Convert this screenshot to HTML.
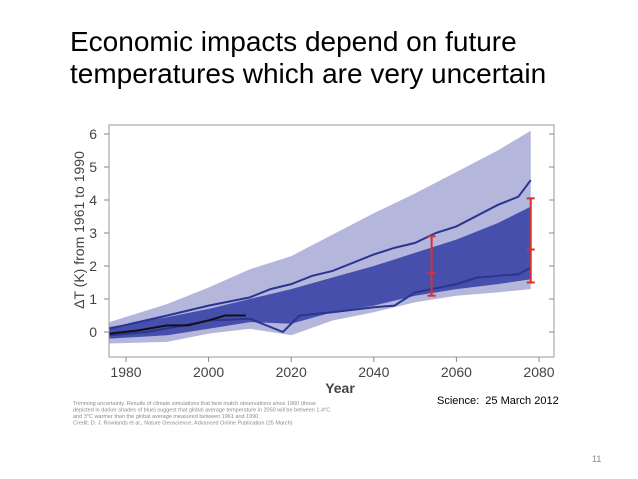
<!DOCTYPE html>
<html><head><meta charset="utf-8"><style>
body{margin:0;background:#fff;}
#wrap{position:relative;width:638px;height:479px;overflow:hidden;font-family:"Liberation Sans",sans-serif;}
.t{position:absolute;left:70px;font-size:28px;color:#000;white-space:nowrap;line-height:32px;}
</style></head><body>
<div id="wrap">
<div class="t" style="top:26px">Economic impacts depend on future</div>
<div class="t" style="top:58px">temperatures which are very uncertain</div>
<svg id="chart" width="638" height="479" style="position:absolute;left:0;top:0"></svg>
<div style="position:absolute;left:437px;top:395px;font-size:11px">Science:&nbsp; 25 March 2012</div>
<div style="position:absolute;left:592px;top:454px;font-size:9px;color:#888">11</div>
</div>
<script>
const xTicks=[1980,2000,2020,2040,2060,2080];
const yTicks=[0,1,2,3,4,5,6];
const envYears=[1976,1990,2000,2010,2020,2030,2040,2050,2060,2070,2078];
const lightUpper=[0.3,0.85,1.35,1.9,2.3,2.95,3.6,4.2,4.85,5.5,6.1];
const lightLower=[-0.35,-0.3,-0.05,0.1,-0.1,0.35,0.6,0.9,1.1,1.2,1.3];
const darkUpper=[0.15,0.45,0.7,1.0,1.3,1.65,2.0,2.4,2.8,3.3,3.8];
const darkLower=[-0.2,-0.1,0.1,0.3,0.25,0.6,0.8,1.1,1.3,1.45,1.6];
const upYears=[1976,1990,2000,2010,2015,2020,2025,2030,2040,2045,2050,2055,2060,2070,2075,2078];
const upVals=[0.1,0.5,0.8,1.05,1.3,1.45,1.7,1.85,2.35,2.55,2.7,3.0,3.2,3.85,4.1,4.6];
const loYears=[1976,1985,1994,2000,2010,2018,2022,2030,2040,2045,2050,2060,2065,2070,2075,2078];
const loVals=[-0.1,0.0,0.2,0.35,0.4,0.0,0.5,0.6,0.75,0.8,1.2,1.45,1.65,1.7,1.75,1.95];
const obsYears=[1976,1983,1990,1995,2000,2004,2009];
const obsVals=[-0.05,0.05,0.2,0.2,0.35,0.5,0.5];
const errYears=[2054,2078];
const errTop=[2.9,4.05];
const errMid=[1.8,2.5];
const errBot=[1.1,1.5];
const X=y=>126+(y-1980)*4.13;
const Y=v=>332-v*33;
const svg=document.getElementById('chart');
const NS='http://www.w3.org/2000/svg';
function mk(tag,attrs,name){const e=document.createElementNS(NS,tag);for(const k in attrs)e.setAttribute(k,attrs[k]);


svg.appendChild(e);return e;}
mk('rect',{x:109,y:125,width:445,height:232,fill:'none',stroke:'#999','stroke-width':1},'plot-frame');
yTicks.forEach(v=>{mk('line',{x1:109,x2:104,y1:Y(v),y2:Y(v),stroke:'#888'},'y-tick');
mk('line',{x1:554,x2:549,y1:Y(v),y2:Y(v),stroke:'#888'},'y-tick-right');
const t=mk('text',{x:97,y:Y(v)+5,'font-size':14,fill:'#444','text-anchor':'end'},'y-tick-label');t.textContent=v;});
xTicks.forEach(v=>{mk('line',{x1:X(v),x2:X(v),y1:357,y2:362,stroke:'#888'},'x-tick');
const t=mk('text',{x:X(v),y:377,'font-size':14,fill:'#444','text-anchor':'middle'},'x-tick-label');t.textContent=v;});
const xt=mk('text',{x:340,y:393,'font-size':14,'font-weight':'bold',fill:'#444','text-anchor':'middle'},'x-axis-title');xt.textContent='Year';
const yt=mk('text',{x:0,y:0,'font-size':14,fill:'#444','text-anchor':'middle',transform:'translate(84,230) rotate(-90)'},'y-axis-title');yt.textContent='ΔT (K) from 1961 to 1990';
function band(ys,up,lo,fill,name){let d='M'+ys.map((y,i)=>X(y)+','+Y(up[i])).join('L');
for(let i=ys.length-1;i>=0;i--)d+='L'+X(ys[i])+','+Y(lo[i]);mk('path',{d:d+'Z',fill:fill},name);}
band(envYears,lightUpper,lightLower,'#b4b6dc','light-ensemble-band');
band(envYears,darkUpper,darkLower,'#4650ac','dark-ensemble-band');
function line(ys,vs,col,w,name){mk('path',{d:'M'+ys.map((y,i)=>X(y)+','+Y(vs[i])).join('L'),fill:'none',stroke:col,'stroke-width':w},name);}
line(upYears,upVals,'#2a3590',2,'upper-bound-line');
line(loYears,loVals,'#2a3590',2,'lower-bound-line');
line(obsYears,obsVals,'#111',2,'observed-line');
errYears.forEach((y,i)=>{const x=X(y);
mk('line',{x1:x,x2:x,y1:Y(errTop[i]),y2:Y(errBot[i]),stroke:'#d83030','stroke-width':2},'error-bar');
[errTop[i],errBot[i],errMid[i]].forEach(v=>mk('line',{x1:x-4,x2:x+4,y1:Y(v),y2:Y(v),stroke:'#d83030','stroke-width':2},'error-cap'));});
const cap=['Trimming uncertainty. Results of climate simulations that best match observations since 1960 (those','depicted in darker shades of blue) suggest that global average temperature in 2050 will be between 1.4°C','and 3°C warmer than the global average measured between 1961 and 1990.','Credit: D. J. Rowlands et al., Nature Geoscience, Advanced Online Publication (25 March)'];
cap.forEach((s,i)=>{const t=mk('text',{x:73,y:405+i*6.5,'font-size':5.5,fill:'#8a8a8a'},'caption-line');t.textContent=s;});
</script>
</body></html>
